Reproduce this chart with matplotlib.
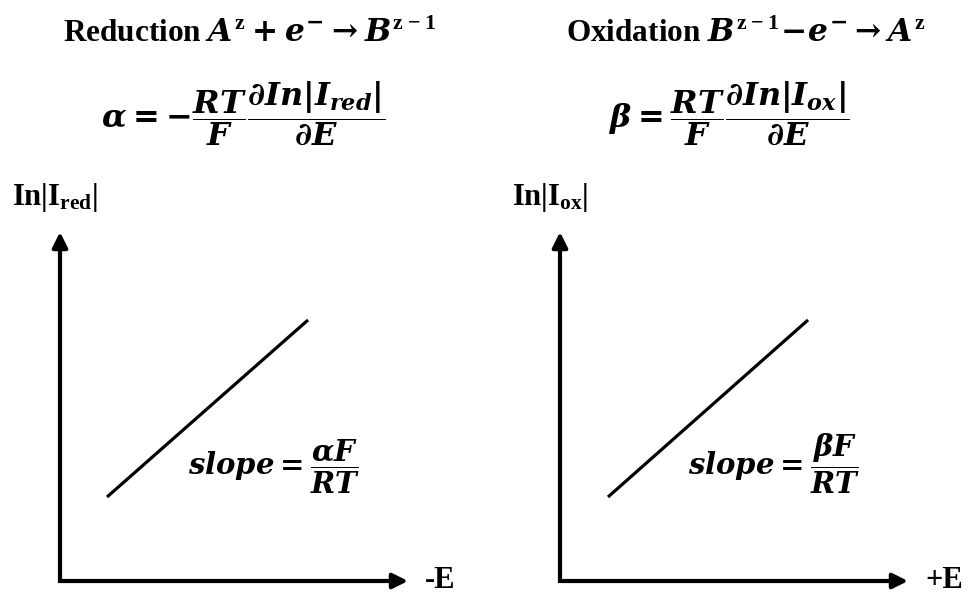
#!/usr/bin/env python3
import matplotlib.pyplot as plt

plt.rcParams['mathtext.fontset'] = 'custom'
plt.rcParams['mathtext.rm'] = 'DejaVu Serif:bold'
plt.rcParams['mathtext.it'] = 'DejaVu Serif:italic:bold'
plt.rcParams['mathtext.bf'] = 'Liberation Serif:bold'

# panel geometry in pixel units (figure is 969 x 594)
origins_x = [60, 560]
origin_y = 581
axis_top = 232
axis_len_x = 348

# straight Tafel lines: (-E / +E, ln|I|) end points for each panel
line_E = [[107, 308], [608, 808]]
line_lnI = [[497, 320], [497, 320]]

titles = [r'Reduction $A^{\mathbf{z}}+e^{-}\rightarrow B^{\mathbf{z-1}}$',
          r'Oxidation $B^{\mathbf{z-1}}\!-\!e^{-}\rightarrow A^{\mathbf{z}}$']
coef_eqs = [r'$\alpha=-\dfrac{RT}{F}\dfrac{\partial In|I_{red}|}{\partial E}$',
            r'$\beta=\dfrac{RT}{F}\dfrac{\partial In|I_{ox}|}{\partial E}$']
ylabels = [r'$\mathbf{In|I_{red}|}$', r'$\mathbf{In|I_{ox}|}$']
xlabels = ['-E', '+E']
slopes = [r'$slope=\dfrac{\alpha F}{RT}$', r'$slope=\dfrac{\beta F}{RT}$']

title_x = [250, 746]
eq_x = [243, 729]

fig = plt.figure(figsize=(9.69, 5.94), dpi=100)
ax = fig.add_axes([0, 0, 1, 1])
ax.set_xlim(0, 969)
ax.set_ylim(594, 0)
ax.axis('off')

head = dict(arrowstyle='-|>,head_length=0.9,head_width=0.45', lw=3,
            color='black', shrinkA=0, shrinkB=0)

for i in range(2):
    x0 = origins_x[i]
    # L-shaped axes, arrow heads on the free ends
    ax.plot([x0, x0, x0 + axis_len_x - 8], [axis_top + 8, origin_y, origin_y],
            color='black', lw=3, solid_joinstyle='miter', solid_capstyle='butt')
    ax.annotate('', xy=(x0, axis_top), xytext=(x0, axis_top + 10), arrowprops=head)
    ax.annotate('', xy=(x0 + axis_len_x, origin_y), xytext=(x0 + axis_len_x - 10, origin_y),
                arrowprops=head)

    ax.plot(line_E[i], line_lnI[i], color='black', lw=2.3, solid_capstyle='butt')

    ax.text(title_x[i], 34, titles[i], ha='center', va='center',
            fontsize=22.5, fontweight='bold', family='Liberation Serif')
    ax.text(eq_x[i], 114, coef_eqs[i], ha='center', va='center', fontsize=23)
    ax.text(x0 - 48, 198, ylabels[i], ha='left', va='center', fontsize=22)
    ax.text(x0 + axis_len_x + 17, origin_y, xlabels[i], ha='left', va='center',
            fontsize=22, fontweight='bold', family='Liberation Serif')
    ax.text(x0 + 128, 476, slopes[i], ha='left', va='baseline', fontsize=21)

fig.savefig('out.png', dpi=100)
